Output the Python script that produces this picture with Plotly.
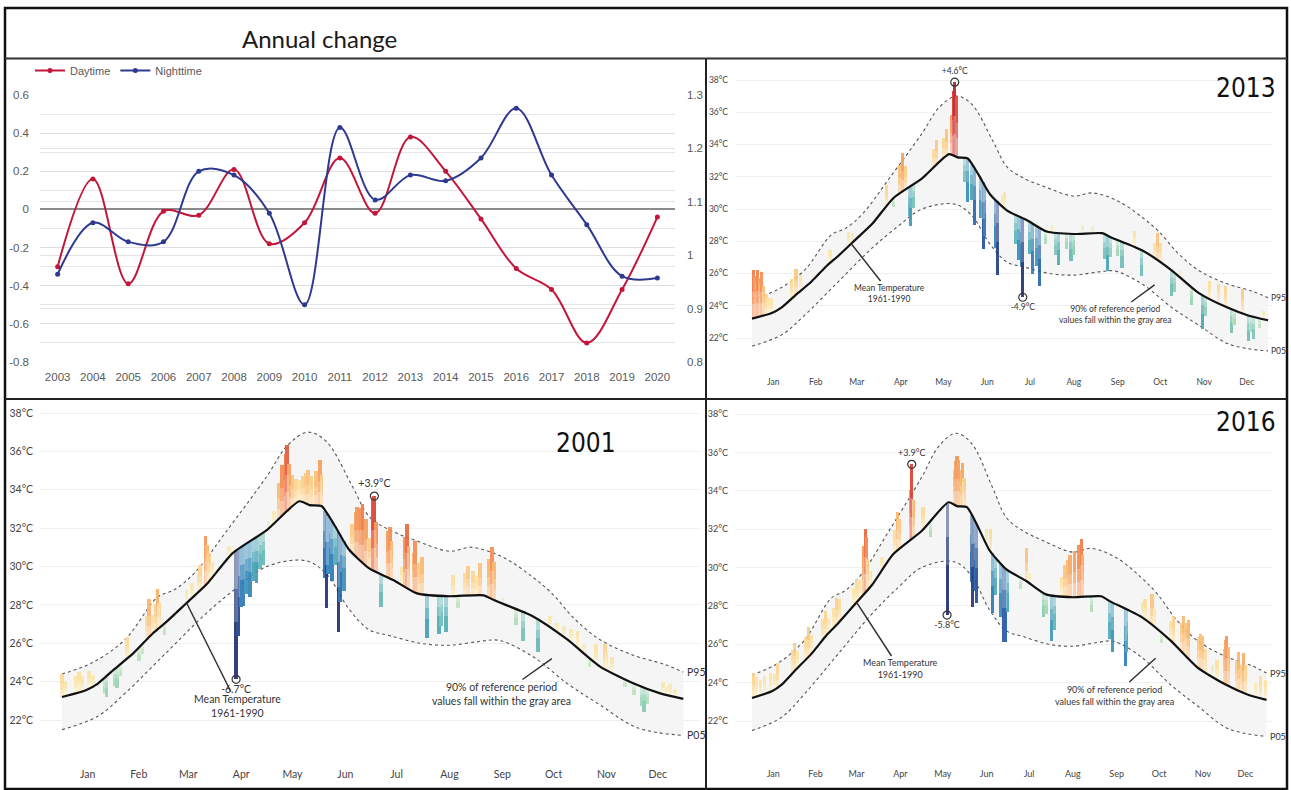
import numpy as np
import plotly.graph_objects as go

W, H = 1291, 790

# ---------------- annual change (top-left) ----------------
years = list(range(2003, 2021))
daytime = [-0.30, 0.16, -0.39, -0.01, -0.03, 0.21, -0.18, -0.07, 0.27, -0.02,
           0.38, 0.20, -0.05, -0.31, -0.42, -0.70, -0.42, -0.04]
nighttime = [-0.34, -0.07, -0.17, -0.17, 0.20, 0.18, -0.02, -0.50, 0.43, 0.05,
             0.18, 0.15, 0.27, 0.53, 0.18, -0.08, -0.35, -0.36]
left_ticks = [0.6, 0.4, 0.2, 0, -0.2, -0.4, -0.6, -0.8]
right_ticks = [1.3, 1.2, 1.1, 1.0, 0.9, 0.8]

# ---------------- daily temperature panels ----------------
months = ["Jan", "Feb", "Mar", "Apr", "May", "Jun",
          "Jul", "Aug", "Sep", "Oct", "Nov", "Dec"]
month_mid_days = [15, 45, 74, 105, 135, 166, 196, 227, 258, 288, 319, 349]
temp_ticks = [22, 24, 26, 28, 30, 32, 34, 36, 38]

# reference climatology 1961-1990 (day of year, degC)
mean_days = [0, 14, 21, 30, 42, 53, 61, 73, 85, 100, 120, 139, 145, 152, 160,
             168, 180, 194, 208, 227, 247, 253, 276, 296, 315, 335, 350, 364]
mean_temp = [23.2, 23.55, 23.9, 24.6, 25.5, 26.5, 27.1, 28.1, 29.1, 30.7, 31.9,
             33.4, 33.2, 33.15, 32.1, 30.9, 29.9, 29.3, 28.6, 28.45, 28.5, 28.25,
             27.4, 26.2, 24.8, 23.9, 23.4, 23.1]
p95_days = [0, 18, 37, 56, 66, 78, 96, 120, 132, 144, 155, 170, 180, 192, 206,
            227, 240, 258, 275, 287, 300, 315, 334, 353, 364]
p95_temp = [24.4, 25.0, 26.2, 28.4, 28.8, 29.7, 31.8, 34.7, 36.3, 37.0, 36.5,
            34.2, 32.6, 31.9, 31.4, 30.8, 31.0, 30.5, 29.5, 28.6, 27.3, 26.2,
            25.4, 24.9, 24.5]
p05_days = [0, 21, 37, 61, 85, 104, 120, 143, 155, 168, 180, 192, 210, 227, 245,
            256, 276, 296, 315, 337, 364]
p05_temp = [21.5, 22.2, 23.4, 25.5, 27.6, 29.0, 30.0, 30.3, 29.6, 27.8, 26.7,
            26.4, 26.0, 25.9, 26.1, 26.15, 25.3, 23.9, 22.8, 21.6, 21.2]

# daily anomalies against the 1961-1990 mean (day of year, degC)
days_2013 = [1, 2, 3, 4, 5, 6, 7, 8, 10, 12, 14, 28, 31, 34, 55, 68, 71,
             95, 100, 104, 106, 108, 111, 112, 114, 128, 130, 135, 137, 141, 142,
             143, 144, 150, 152, 155, 157, 161, 163, 164, 172, 173, 177, 178,
             186, 188, 190, 191, 196, 198, 201, 203, 207, 211, 214, 216, 222, 225,
             227, 233, 240, 249, 251, 253, 258, 261, 270, 275, 284, 286, 288, 296,
             298, 302, 310, 318, 320, 323, 329, 334, 338, 340, 346, 350, 352, 354,
             358, 361]
anom_2013 = [3.0, 2.6, 2.2, 2.9, 2.4, 2.0, 2.7, 1.8, 1.3, 1.0, 0.9, 1.2, 1.6, 1.0,
             0.8, 0.9, 0.6, 1.3, -0.6, 1.8, 2.4, 1.5, -1.8, -2.5, -1.5, 1.2, 1.6,
             1.3, 1.7, 2.5, 4.0, 4.6, 3.8, -1.5, -2.7, -2.2, -3.5, -2.5, -4.1, -3.2,
             -3.0, -4.6, 0.7, 1.0, -1.8, -2.7, -3.0, -4.9, -2.0, -3.1, -2.5, -3.6,
             -0.8, 0.4, -1.4, -2.0, -1.0, -1.7, -1.3, 0.5, 0.4, -1.5, -2.2, -1.2,
             -1.0, -1.6, 1.0, -1.6, 1.0, 1.7, 1.2, -1.6, -1.2, 0.4, -1.1, -2.1, -1.2,
             1.1, 1.2, 1.3, -1.5, -0.9, 1.5, -1.6, -1.0, -1.4, -0.6, 0.5]
ext_days_2013 = [143, 191]
ext_anom_2013 = [4.6, -4.9]

days_2001 = [0, 2, 8, 10, 12, 16, 18, 25, 26, 31, 32, 34, 38, 45, 47, 50, 51, 53,
             55, 56, 57, 60, 73, 76, 80, 81, 84, 85, 86, 88, 98, 102, 103, 105,
             106, 108, 110, 112, 114, 116, 118, 121, 124, 127, 129, 131, 132, 133,
             135, 137, 139, 141, 143, 144, 146, 149, 151, 152, 154, 155, 156, 158,
             160, 162, 163, 165, 170, 172, 173, 175, 176, 178, 180, 182, 183, 184,
             187, 191, 192, 193, 199, 201, 202, 203, 206, 207, 209, 211, 214, 221,
             222, 225, 229, 232, 236, 238, 241, 243, 245, 250, 252, 253, 258, 266,
             270, 279, 286, 290, 294, 298, 302, 306, 309, 313, 318, 319, 322, 330,
             335, 340, 341, 343, 352, 354, 356, 359]
anom_2001 = [1.2, 0.8, 0.9, 1.05, 0.8, 0.9, 0.6, -0.8, -1.1, -0.9, -1.1, -0.6, 1.15,
             -0.7, -0.5, 1.2, 2.0, 1.0, 1.4, 2.1, 1.3, -0.6, 0.7, 0.8, 1.0, 1.3,
             2.55, 2.0, 1.5, 0.8, 0.6, -6.7, -4.5, -3.1, -3.1, -2.6, -2.9, -2.2,
             -2.4, -1.8, -1.7, 0.4, 0.7, 1.9, 2.7, 3.1, 3.5, 2.4, 1.7, 1.3, 1.1, 1.4,
             1.6, 1.8, 1.5, 1.8, 2.4, 1.6, -3.5, -4.9, -3.0, -3.1, -2.0, -5.2, -3.5,
             -2.6, 1.5, 2.3, 2.6, 2.75, 3.0, 2.4, 1.6, 3.7, 3.9, 2.6, -1.7, 2.4, 2.7,
             2.0, 0.9, 2.6, 3.3, 2.2, 2.0, 2.7, 1.6, 1.9, -2.3, -2.0, -1.6, -1.9,
             1.1, -0.6, 1.2, 1.55, 1.3, 1.0, 1.7, 2.0, 2.7, 2.0, 0.3, -0.8, -1.5,
             -1.7, 0.6, 0.5, 0.6, 0.7, 0.9, 0.5, -0.5, 1.0, 1.3, 1.0, 0.8, -0.4,
             -0.6, -1.0, -1.3, -0.8, 0.6, 0.4, 0.6, 0.4]
ext_days_2001 = [183, 102]
ext_anom_2001 = [3.9, -6.7]

days_2016 = [1, 3, 6, 9, 13, 16, 18, 29, 30, 32, 38, 40, 42, 50, 52, 54, 58, 60,
             62, 72, 74, 76, 79, 80, 81, 82, 84, 92, 101, 103, 104, 112, 113, 114,
             121, 126, 138, 143, 144, 145, 146, 148, 149, 150, 155, 156, 158, 159,
             166, 169, 170, 172, 176, 178, 179, 181, 190, 194, 196, 206, 208, 212,
             214, 219, 221, 223, 225, 228, 231, 233, 234, 240, 253, 255, 264, 265,
             276, 278, 283, 285, 290, 296, 298, 304, 305, 307, 309, 316, 317, 319,
             321, 326, 329, 334, 335, 336, 337, 343, 344, 346, 348, 349, 356, 360,
             363]
anom_2016 = [1.3, 1.0, 0.8, 0.9, 1.0, 0.8, 1.3, 1.2, 1.45, 0.9, 1.2, 1.55, 1.0,
             1.1, 1.3, 0.8, 1.0, 1.4, 1.2, 0.9, 1.2, 1.0, 2.5, 3.35, 2.8, 1.6, 0.8,
             0.7, 1.2, 2.0, 1.6, 2.6, 3.9, 2.0, 1.2, -0.8, -5.8, 1.8, 2.3, 2.6, 2.4,
             1.9, 2.3, 1.5, -3.5, -4.7, -3.6, -4.1, 0.8, 1.2, -3.1, -2.0, -2.8,
             -3.95, -3.85, -2.2, -0.6, 1.7, 0.5, -1.3, -1.0, -2.4, -1.8, 1.0, 1.65,
             1.9, 2.2, 2.4, 2.7, 3.0, 2.2, -0.8, -2.0, -2.6, -3.0, -2.2, 0.8, 1.1,
             1.65, 1.0, -0.5, 1.0, 1.4, 1.5, 1.95, 1.7, 2.0, 1.6, 1.85, 1.8, 1.2,
             0.6, 1.0, 1.8, 2.3, 2.55, 2.0, 1.5, 2.0, 1.4, 2.1, 1.5, 0.7, 1.15, 1.0]
ext_days_2016 = [113, 138]
ext_anom_2016 = [3.9, -5.8]

ANOM_SCALE = [[0.0, "#1c2d6e"], [0.1, "#1f4f9e"], [0.2, "#2a7db8"],
              [0.3, "#4aaab5"], [0.4, "#9fd6b3"], [0.5, "#eef3cf"],
              [0.6, "#fde3a1"], [0.7, "#fbb468"], [0.8, "#f27a42"],
              [0.9, "#d9372b"], [1.0, "#a50f2b"]]

PANEL_FONT = "Lato, 'Open Sans', sans-serif"
YEAR_FONT = "'DejaVu Sans Condensed', 'Liberation Sans Narrow', 'DejaVu Sans', sans-serif"


def fx(p):
    return p / W


def fy(p):
    return 1 - p / H


fig = go.Figure()

# annual series
fig.add_trace(go.Scatter(
    x=years, y=daytime, name="Daytime", mode="lines+markers",
    line=dict(color="#c4163a", width=2, shape="spline", smoothing=1.0),
    marker=dict(size=5, color="#c4163a"), xaxis="x", yaxis="y"))
fig.add_trace(go.Scatter(
    x=years, y=nighttime, name="Nighttime", mode="lines+markers",
    line=dict(color="#2e3a8f", width=2, shape="spline", smoothing=1.0),
    marker=dict(size=5, color="#2e3a8f"), xaxis="x", yaxis="y"))
fig.add_trace(go.Scatter(x=[years[0]], y=[None], xaxis="x", yaxis="y2",
                         showlegend=False, hoverinfo="skip"))

annual_tick_font = dict(family="'Liberation Sans', Arial, sans-serif",
                        size=11.5, color="#595959")
layout = dict(
    width=W, height=H, margin=dict(l=0, r=0, t=0, b=0, autoexpand=False),
    paper_bgcolor="white", plot_bgcolor="white",
    barmode="overlay", bargap=0,
    showlegend=True,
    legend=dict(orientation="h", x=fx(30), y=fy(56), xanchor="left",
                yanchor="top", traceorder="normal",
                font=dict(family="'Liberation Sans', Arial", size=11,
                          color="#595959"),
                bgcolor="rgba(0,0,0,0)", itemwidth=30, tracegroupgap=0),
    xaxis=dict(domain=[fx(40), fx(675)], range=[2002.5, 2020.5],
               tickvals=years, ticktext=[str(y) for y in years],
               showgrid=False, zeroline=False, showline=False, ticks="",
               tickfont=annual_tick_font, ticklabelstandoff=6, fixedrange=True),
    yaxis=dict(domain=[fy(362), fy(95)], range=[-0.8, 0.6],
               tickvals=left_ticks, ticktext=[f"{v:g}" for v in left_ticks],
               showgrid=True, gridcolor="#dedede", gridwidth=1,
               minor=dict(dtick=0.1, tick0=0, showgrid=True,
                          gridcolor="#e6e6e6", gridwidth=1),
               zeroline=True, zerolinecolor="#8a8a8a", zerolinewidth=2,
               showline=False, ticks="", tickfont=annual_tick_font,
               ticklabelstandoff=10, fixedrange=True),
    yaxis2=dict(overlaying="y", side="right", anchor="x", range=[0.8, 1.3],
                tickvals=right_ticks, ticktext=[f"{v:g}" for v in right_ticks],
                showgrid=True, gridcolor="#e3e3e3", gridwidth=1,
                zeroline=False, showline=False, ticks="",
                tickfont=annual_tick_font, ticklabelstandoff=11,
                fixedrange=True),
)

annotations = [dict(text="Annual change", x=fx(319), y=fy(38), xref="paper",
                    yref="paper", showarrow=False, xanchor="center",
                    yanchor="middle",
                    font=dict(family="Lato, 'Open Sans'", size=24,
                              color="#1a1a1a"))]

panels = [
    dict(year="2013", xa="x3", ya="y3", yb="y6", dom_x=(735, 1272),
         dom_y=(70, 370), day0=752, kx=1.4176, t38=80, ky=16.125, fs=8.5,
         standoff=5, year_pos=(1246, 88), days=days_2013, anom=anom_2013,
         ext_days=ext_days_2013, ext_anom=ext_anom_2013,
         mean_day=70, mean_txt=(890, 293), band_pt=(284, 25.3),
         band_txt=(1115, 314)),
    dict(year="2001", xa="x4", ya="y4", yb="y7", dom_x=(40, 700),
         dom_y=(405, 755), day0=62, kx=1.7069, t38=413, ky=19.19, fs=10.5,
         standoff=11, year_pos=(586, 443), days=days_2001, anom=anom_2001,
         ext_days=ext_days_2001, ext_anom=ext_anom_2001,
         mean_day=73, mean_txt=(238, 706), band_pt=(287, 25.2),
         band_txt=(502, 694)),
    dict(year="2016", xa="x5", ya="y5", yb="y8", dom_x=(735, 1272),
         dom_y=(405, 755), day0=752, kx=1.4135, t38=414, ky=19.19, fs=9,
         standoff=12, year_pos=(1246, 422), days=days_2016, anom=anom_2016,
         ext_days=ext_days_2016, ext_anom=ext_anom_2016,
         mean_day=74, mean_txt=(900, 669), band_pt=(285.5, 25.27),
         band_txt=(1115, 695)),
]

for p in panels:
    xa, ya, yb = p["xa"], p["ya"], p["yb"]
    xr = [(p["dom_x"][0] - p["day0"]) / p["kx"], (p["dom_x"][1] - p["day0"]) / p["kx"]]
    yr = [38 - (p["dom_y"][1] - p["t38"]) / p["ky"], 38 + (p["t38"] - p["dom_y"][0]) / p["ky"]]
    tick_font = dict(family=PANEL_FONT, size=p["fs"], color="#444")

    layout["xaxis" + xa[1:]] = dict(
        domain=[fx(p["dom_x"][0]), fx(p["dom_x"][1])], range=xr, anchor=ya,
        tickvals=month_mid_days, ticktext=months, showgrid=False,
        zeroline=False, showline=False, ticks="", tickfont=tick_font,
        ticklabelstandoff=p["standoff"], fixedrange=True)
    layout["yaxis" + ya[1:]] = dict(
        domain=[fy(p["dom_y"][1]), fy(p["dom_y"][0])], range=yr, anchor=xa,
        tickvals=temp_ticks, ticktext=[f"{t}°C" for t in temp_ticks],
        showgrid=True, gridcolor="#efefef", gridwidth=1, zeroline=False,
        showline=False, ticks="", tickfont=tick_font, ticklabelstandoff=6,
        fixedrange=True)
    # twin axis so the daily spikes and the mean curve sit above the gray band
    layout["yaxis" + yb[1:]] = dict(
        overlaying=ya, anchor=xa, range=yr, visible=False, showgrid=False,
        zeroline=False, fixedrange=True)

    # P95 / P05 envelope with the gray band between them
    fig.add_trace(go.Scatter(
        x=p95_days, y=p95_temp, mode="lines", xaxis=xa, yaxis=ya,
        line=dict(color="#555", width=1.1, dash="dot", shape="spline"),
        showlegend=False, hoverinfo="skip"))
    fig.add_trace(go.Scatter(
        x=p05_days, y=p05_temp, mode="lines", xaxis=xa, yaxis=ya,
        line=dict(color="#555", width=1.1, dash="dot", shape="spline"),
        fill="tonexty", fillcolor="#f5f5f5",
        showlegend=False, hoverinfo="skip"))

    # daily anomaly spikes, rising or falling from the mean curve
    base = np.interp(p["days"], mean_days, mean_temp)
    anom = np.array(p["anom"])
    fig.add_trace(go.Bar(
        x=p["days"], y=anom, base=base, width=2.2, xaxis=xa, yaxis=yb,
        marker=dict(color=anom, colorscale=ANOM_SCALE, cmin=-5, cmax=5,
                    line=dict(width=0)),
        opacity=0.9, showlegend=False, hoverinfo="skip"))
    # soften each spike towards the mean curve
    for frac, op in ((0.55, 0.22), (0.3, 0.3)):
        fig.add_trace(go.Bar(
            x=p["days"], y=anom * frac, base=base, width=2.3, xaxis=xa,
            yaxis=yb, marker=dict(color="white", line=dict(width=0)),
            opacity=op, showlegend=False, hoverinfo="skip"))

    # mean temperature 1961-1990
    fig.add_trace(go.Scatter(
        x=mean_days, y=mean_temp, mode="lines", xaxis=xa, yaxis=yb,
        line=dict(color="#111", width=2.2, shape="spline", smoothing=0.6),
        showlegend=False, hoverinfo="skip"))

    # extreme days
    ext_base = np.interp(p["ext_days"], mean_days, mean_temp)
    ext_y = [b + a for b, a in zip(ext_base, p["ext_anom"])]
    fig.add_trace(go.Scatter(
        x=p["ext_days"], y=ext_y, mode="markers+text", xaxis=xa, yaxis=yb,
        marker=dict(symbol="circle-open", size=8, color="#333",
                    line=dict(width=1.2, color="#333")),
        text=[f"{a:+.1f}°C" for a in p["ext_anom"]],
        textposition=["top center" if a > 0 else "bottom center"
                      for a in p["ext_anom"]],
        textfont=dict(family=PANEL_FONT, size=p["fs"], color="#333"),
        cliponaxis=False, showlegend=False, hoverinfo="skip"))

    # leader-line notes
    m_day = p["mean_day"]
    m_t = float(np.interp(m_day, mean_days, mean_temp))
    m_px = (p["day0"] + m_day * p["kx"], p["t38"] + (38 - m_t) * p["ky"])
    annotations.append(dict(
        x=m_day, y=m_t, xref=xa, yref=ya, text="Mean Temperature<br>1961-1990",
        showarrow=True, arrowhead=0, arrowwidth=1.5, arrowcolor="#333",
        ax=p["mean_txt"][0] - m_px[0], ay=p["mean_txt"][1] - m_px[1],
        font=dict(family=PANEL_FONT, size=p["fs"], color="#333")))
    b_day, b_t = p["band_pt"]
    b_px = (p["day0"] + b_day * p["kx"], p["t38"] + (38 - b_t) * p["ky"])
    annotations.append(dict(
        x=b_day, y=b_t, xref=xa, yref=ya,
        text="90% of reference period<br>values fall within the gray area",
        showarrow=True, arrowhead=0, arrowwidth=1.5, arrowcolor="#333",
        ax=p["band_txt"][0] - b_px[0], ay=p["band_txt"][1] - b_px[1],
        font=dict(family=PANEL_FONT, size=p["fs"], color="#333")))
    for lab, val in (("P95", p95_temp[-1]), ("P05", p05_temp[-1])):
        annotations.append(dict(
            x=p95_days[-1] + 1, y=val, xref=xa, yref=ya, text=lab,
            showarrow=False, xanchor="left", yanchor="middle",
            font=dict(family=PANEL_FONT, size=p["fs"], color="#333")))

    annotations.append(dict(
        text=p["year"], x=fx(p["year_pos"][0]), y=fy(p["year_pos"][1]),
        xref="paper", yref="paper", showarrow=False, xanchor="center",
        yanchor="middle",
        font=dict(family=YEAR_FONT, size=26, color="#111")))

layout["annotations"] = annotations


def hline(y, x0, x1, w, c):
    return dict(type="line", xref="paper", yref="paper", x0=fx(x0), x1=fx(x1),
                y0=fy(y), y1=fy(y), line=dict(color=c, width=w))


def vline(x, y0, y1, w, c):
    return dict(type="line", xref="paper", yref="paper", x0=fx(x), x1=fx(x),
                y0=fy(y0), y1=fy(y1), line=dict(color=c, width=w))


layout["shapes"] = [
    dict(type="rect", xref="paper", yref="paper", x0=fx(5), x1=fx(1287),
         y0=fy(789), y1=fy(8), line=dict(color="#111", width=2.5)),
    hline(58.5, 5, 1287, 1.8, "#333"),
    vline(706, 58.5, 789, 2, "#222"),
    hline(399, 5, 1287, 2, "#222"),
]

fig.update_layout(**layout)
fig.write_html("out.html")
